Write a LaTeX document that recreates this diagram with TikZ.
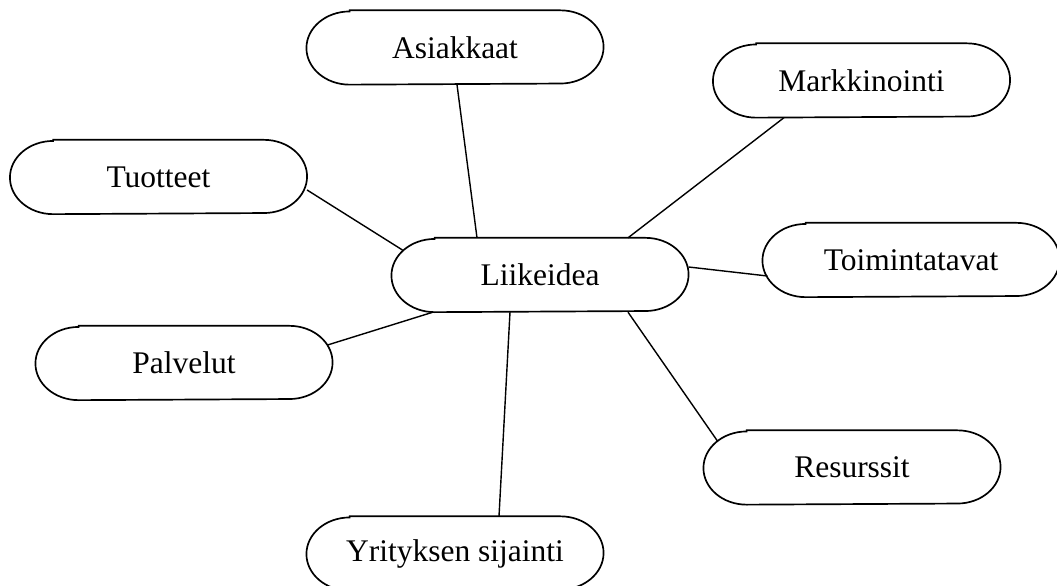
\documentclass[tikz,border=0pt]{standalone}
\usepackage{fontspec}
\setmainfont{Liberation Serif}
\usepackage{tikz}
\usetikzlibrary{calc,positioning}

\begin{document}
\begin{tikzpicture}[
        x=0.125mm, y=-0.125mm,
        idea/.style={minimum width=3.7cm, minimum height=0.915cm, inner sep=0pt,
            font=\fontsize{11.2pt}{13pt}\selectfont},
        rim/.style={line width=0.6pt},
        spoke/.style={line width=0.5pt}
    ]
    \clip (0,0) rectangle (1057,586);

%%
% Central idea
    \node (liike) [idea] at (540,275) {Liikeidea};
%%
% Surrounding topics
    \node (asiak) [idea] at (455,47.5) {Asiakkaat};
    \node (markk) [idea] at (861.5,80.5) {Markkinointi};
    \node (tuott) [idea] at (158.5,177) {Tuotteet};
    \node (toimi) [idea] at (911,260) {Toimintatavat};
    \node (palve) [idea] at (184,363) {Palvelut};
    \node (resur) [idea] at (852,467.5) {Resurssit};
    \node (yrity) [idea] at (455,553.5) {Yrityksen sijainti};
%%
% Outline of every box, with oval ends
    \foreach \n in {liike,asiak,markk,tuott,toimi,palve,resur,yrity}
        \draw[rim] ([xshift=5.4mm]\n.north west)
            -- ([xshift=-5.4mm]\n.north east)
            arc[start angle=90, end angle=-90, x radius=5.4mm, y radius=4.575mm]
            -- ([xshift=5.4mm]\n.south west)
            arc[start angle=270, end angle=90, x radius=5.4mm, y radius=4.575mm]
            -- cycle;
%%
% Spokes to the centre
    \draw[spoke] ($(asiak.south)+(2,0)$) -- ($(liike.north)+(-63,0)$);
    \draw[spoke] ($(markk.south)+(-77.5,0)$) -- ($(liike.north)+(88,0)$);
    \draw[spoke] ($(tuott.east)+(0,13)$) -- ($(liike.west)+(11,-25)$);
    \draw[spoke] ($(toimi.west)+(5,16)$) -- ($(liike.east)+(0,-8)$);
    \draw[spoke] ($(palve.east)+(-5,-18)$) -- ($(liike.south)+(-107,0)$);
    \draw[spoke] ($(yrity.north)+(44,0)$) -- ($(liike.south)+(-30,0)$);
    \draw[spoke] ($(resur.west)+(14,-26.5)$) -- ($(liike.south)+(88,0)$);

\end{tikzpicture}
\end{document}
